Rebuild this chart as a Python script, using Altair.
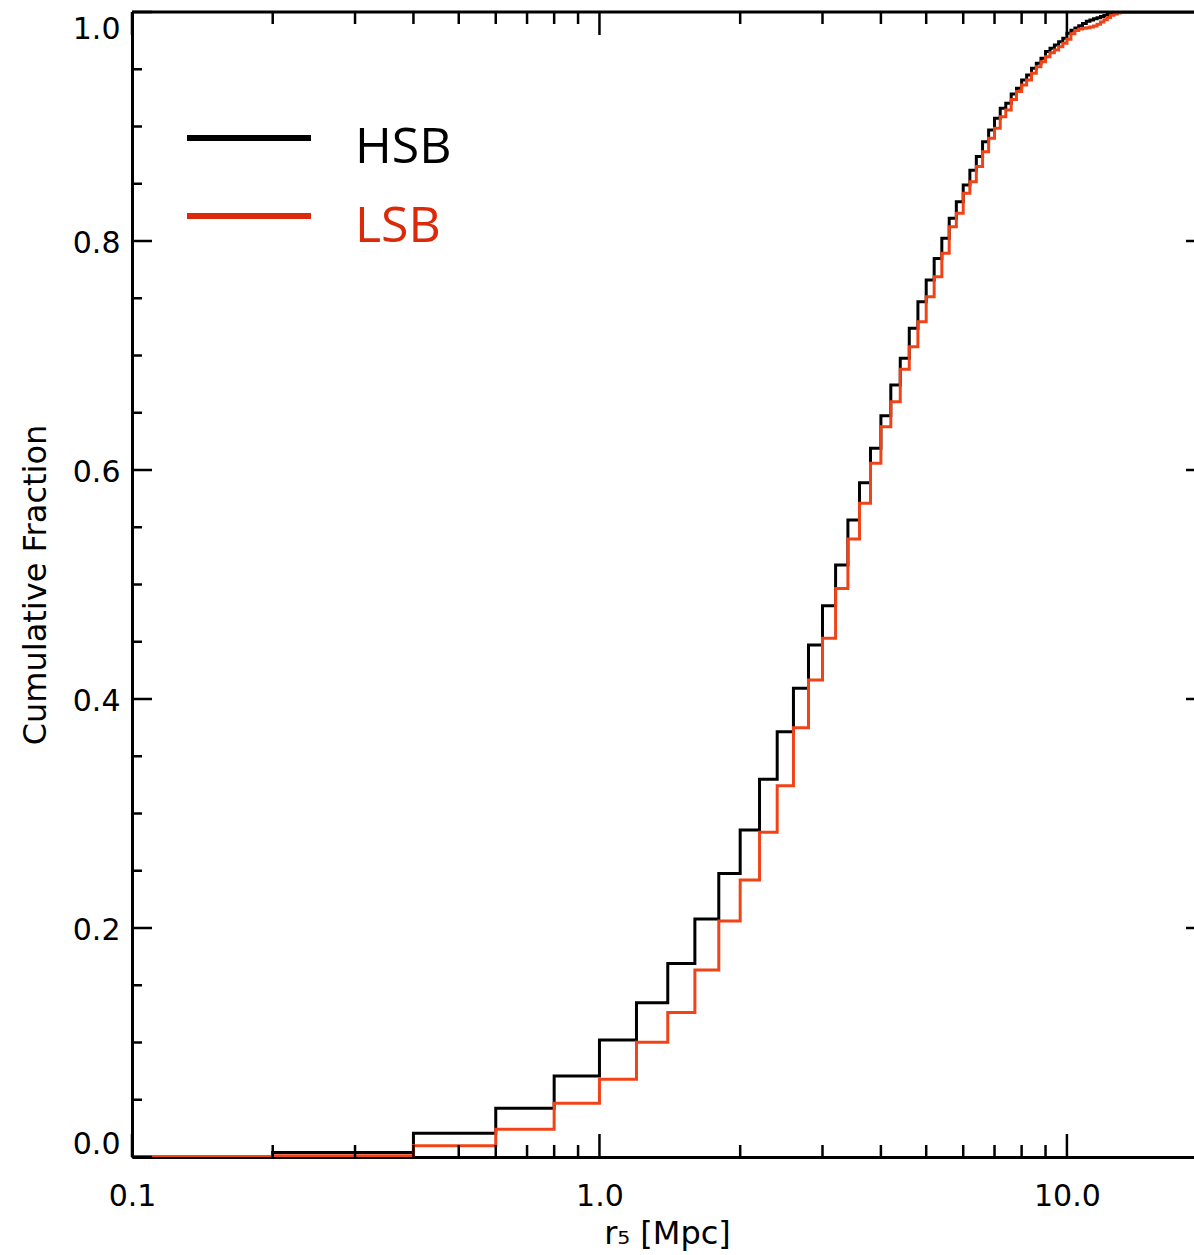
import altair as alt
import pandas as pd

# ---- data (cumulative fraction at each 0.2 Mpc bin edge) ----
r5_edges = [0.1, 0.2, 0.4, 0.6, 0.8, 1.0, 1.2, 1.4, 1.6, 1.8, 2.0,
            2.2, 2.4, 2.6, 2.8, 3.0, 3.2, 3.4, 3.6, 3.8, 4.0,
            4.2, 4.4, 4.6, 4.8, 5.0, 5.2, 5.4, 5.6, 5.8, 6.0,
            6.2, 6.4, 6.6, 6.8, 7.0, 7.2, 7.4, 7.6, 7.8, 8.0,
            8.2, 8.4, 8.6, 8.8, 9.0, 9.2, 9.4, 9.6, 9.8, 10.0,
            10.2, 10.4, 10.6, 10.8, 11.0, 11.2, 11.4, 11.6, 11.8, 12.0,
            12.2, 12.4, 12.6, 12.8, 13.0, 13.2, 13.4, 13.6, 13.8, 14.0, 20.0]

hsb_cum = [0.0, 0.004, 0.0207, 0.0425, 0.0707, 0.1022, 0.1348, 0.1691, 0.2079, 0.2477, 0.2856,
           0.330, 0.3715, 0.4093, 0.4472, 0.4815, 0.517, 0.5563, 0.5889, 0.619, 0.6474,
           0.6742, 0.6975, 0.7237, 0.747, 0.766, 0.7848, 0.8023, 0.8198, 0.8343, 0.8489,
           0.8617, 0.8737, 0.8867, 0.8969, 0.9072, 0.9159, 0.9203, 0.9284, 0.9333, 0.9406,
           0.945, 0.9508, 0.9552, 0.9596, 0.9654, 0.9683, 0.9712, 0.9741, 0.9770, 0.9814,
           0.984, 0.986, 0.988, 0.990, 0.992, 0.993, 0.994, 0.995, 0.996, 0.997,
           0.998, 0.9985, 0.999, 1.0, 1.0, 1.0, 1.0, 1.0, 1.0, 1.0, 1.0]

lsb_cum = [0.0, 0.001, 0.0099, 0.0242, 0.0469, 0.0679, 0.1002, 0.1261, 0.1633, 0.2061, 0.2419,
           0.2836, 0.3243, 0.375, 0.4166, 0.453, 0.4966, 0.5397, 0.5709, 0.6058, 0.6378,
           0.6597, 0.6879, 0.7077, 0.7295, 0.7513, 0.7688, 0.7892, 0.8125, 0.8242, 0.8416,
           0.8518, 0.865, 0.878, 0.8897, 0.8984, 0.9086, 0.9144, 0.9236, 0.9305, 0.9362,
           0.9406, 0.9464, 0.9522, 0.9566, 0.961, 0.9645, 0.9668, 0.9697, 0.9726, 0.9761,
           0.981, 0.9838, 0.9852, 0.9858, 0.9863, 0.9869, 0.9878, 0.9892, 0.9913, 0.9933,
           0.9953, 0.9971, 0.9983, 0.9991, 0.9997, 0.9999, 1.0, 1.0, 1.0, 1.0, 1.0]

series_names = ["HSB", "LSB"]
line_colors = ["#000000", "#F04418"]
legend_colors = ["#000000", "#DA2A0A"]

x_tick_values = [0.1, 1.0, 10.0]
x_minor_values = [0.2, 0.3, 0.4, 0.5, 0.6, 0.7, 0.8, 0.9, 2, 3, 4, 5, 6, 7, 8, 9]
y_tick_values = [0.0, 0.2, 0.4, 0.6, 0.8, 1.0]
y_minor_values = [0.05, 0.1, 0.15, 0.25, 0.3, 0.35, 0.45, 0.5, 0.55,
                  0.65, 0.7, 0.75, 0.85, 0.9, 0.95]

W, H = 1062, 1145
FONT = "DejaVu Sans"

xscale = alt.Scale(type="log", domain=[0.1, 18.7], nice=False)
yscale = alt.Scale(domain=[0, 1], nice=False, zero=False)

xaxis = alt.Axis(values=x_tick_values, format=".1f", title="r₅ [Mpc]",
                 domain=True, domainColor="black", domainWidth=3,
                 ticks=False, tickSize=0, grid=False,
                 labelPadding=48, labelBaseline="alphabetic", labelFont=FONT,
                 labelFontSize=30, labelColor="black", labelFlush=False, labelOverlap=False,
                 titleFont=FONT, titleFontSize=32, titleFontWeight="normal", titleColor="black",
                 titleX=535, titleY=86, titleBaseline="alphabetic", titleAlign="center")

yaxis = alt.Axis(values=y_tick_values, format=".1f", title="Cumulative Fraction",
                 domain=True, domainColor="black", domainWidth=3,
                 ticks=False, tickSize=0, grid=False,
                 labelPadding=12, labelFlush=True, labelOffset=2, labelFont=FONT,
                 labelFontSize=30, labelColor="black", labelOverlap=False,
                 titleFont=FONT, titleFontSize=32, titleFontWeight="normal", titleColor="black",
                 titleAngle=270, titleX=-87, titleY=H / 2, titleBaseline="alphabetic",
                 titleAlign="center")

X = lambda: alt.X("x:Q", scale=xscale, axis=xaxis)
Y = lambda: alt.Y("y:Q", scale=yscale, axis=yaxis)

df_hsb = pd.DataFrame({"x": r5_edges, "y": hsb_cum})
df_lsb = pd.DataFrame({"x": r5_edges, "y": lsb_cum})

hsb_line = alt.Chart(df_hsb).mark_line(interpolate="step-after", color=line_colors[0],
                                       strokeWidth=3, clip=True).encode(x=X(), y=Y())
lsb_line = alt.Chart(df_lsb).mark_line(interpolate="step-after", color=line_colors[1],
                                       strokeWidth=3, clip=True).encode(x=X(), y=Y())


def xticks(vals, length, top):
    d = pd.DataFrame({"x": vals})
    y1 = 0 if top else H
    y2 = length if top else H - length
    return alt.Chart(d).mark_rule(color="black", strokeWidth=2.5).encode(
        x=X(), y=alt.value(y1), y2=alt.value(y2))


def yticks(vals, x1, x2):
    d = pd.DataFrame({"y": vals})
    return alt.Chart(d).mark_rule(color="black", strokeWidth=2.5).encode(
        y=Y(), x=alt.value(x1), x2=alt.value(x2))


top_spine = alt.Chart(pd.DataFrame({"y": [1.0]})).mark_rule(color="black", strokeWidth=3).encode(
    y=Y(), x=alt.value(0), x2=alt.value(W))

ticks = [
    xticks(x_tick_values, 23, False), xticks(x_minor_values, 12, False),
    xticks(x_tick_values, 23, True), xticks(x_minor_values, 12, True),
    yticks(y_tick_values, 0, 20), yticks(y_minor_values, 0, 10),
    yticks(y_tick_values[1:-1], W - 8, W),
]

leg_df = pd.DataFrame({"name": series_names, "color": legend_colors,
                       "ly": [126, 204], "ty": [151, 230]})
leg_lines = alt.Chart(leg_df).mark_rule(strokeWidth=6).encode(
    x=alt.value(55), x2=alt.value(179), y=alt.Y("ly:Q", scale=None), 
    color=alt.Color("color:N", scale=None))
leg_text = alt.Chart(leg_df).mark_text(align="left", baseline="alphabetic", font="Open Sans",
                                       fontSize=50).encode(
    x=alt.value(223), y=alt.Y("ty:Q", scale=None), text="name:N",
    color=alt.Color("color:N", scale=None))

chart = alt.layer(hsb_line, lsb_line, top_spine, *ticks, leg_lines, leg_text).properties(
    width=W, height=H,
    autosize=alt.AutoSizeParams(type="none"),
    padding={"left": 132, "top": 12, "right": 0, "bottom": 98},
    background="white",
).configure_view(stroke=None)

chart.save("out.html", embed_options={"renderer": "svg", "actions": False})
